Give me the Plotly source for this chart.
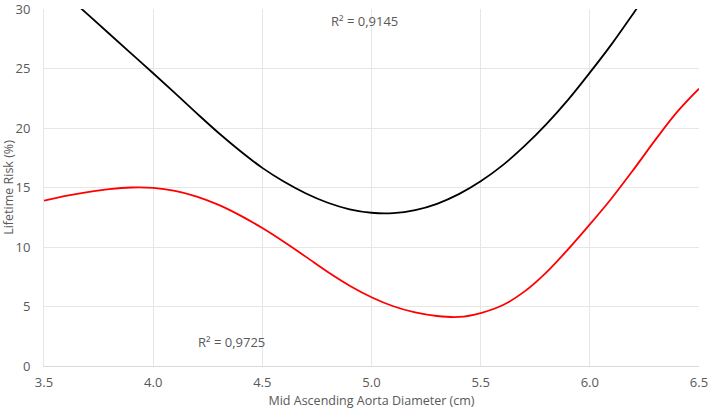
import plotly.graph_objects as go

# Black trendline, values every 0.1 cm
black_x = [3.6, 3.7, 3.8, 3.9, 4.0, 4.1, 4.2, 4.3, 4.4, 4.5, 4.6, 4.7, 4.8, 4.9, 5.0,
           5.1, 5.2, 5.3, 5.4, 5.5, 5.6, 5.7, 5.8, 5.9, 6.0, 6.1, 6.2, 6.3]
black_y = [31.2, 29.55, 27.9, 26.25, 24.6, 22.93, 21.23, 19.58, 18.05, 16.65, 15.48, 14.5, 13.72, 13.17, 12.88,
           12.85, 13.1, 13.63, 14.44, 15.52, 16.86, 18.47, 20.3, 22.36, 24.65, 27.05, 29.65, 32.3]

# Red trendline, values every 0.1 cm
red_x = [3.5, 3.6, 3.7, 3.8, 3.9, 4.0, 4.1, 4.2, 4.3, 4.4, 4.5, 4.6, 4.7, 4.8, 4.9, 5.0,
         5.1, 5.2, 5.3, 5.4, 5.5, 5.6, 5.7, 5.8, 5.9, 6.0, 6.1, 6.2, 6.3, 6.4, 6.5]
red_y = [13.89, 14.29, 14.62, 14.87, 15.0, 14.97, 14.72, 14.24, 13.54, 12.64, 11.59, 10.42, 9.17, 7.9, 6.75, 5.78,
         5.02, 4.5, 4.2, 4.12, 4.45, 5.1, 6.25, 7.85, 9.8, 11.9, 14.1, 16.5, 19.0, 21.35, 23.3]

x_ticks = [3.5, 4.0, 4.5, 5.0, 5.5, 6.0, 6.5]
y_ticks = [0, 5, 10, 15, 20, 25, 30]

r2_black = "R² = 0,9145"
r2_red = "R² = 0,9725"

font = "Open Sans"
grey = "#595959"

fig = go.Figure()
fig.add_trace(go.Scatter(x=black_x, y=black_y, mode="lines",
                         line=dict(color="black", width=1.8, shape="spline", smoothing=1.0),
                         showlegend=False, hoverinfo="skip"))
fig.add_trace(go.Scatter(x=red_x, y=red_y, mode="lines",
                         line=dict(color="#ff0000", width=1.8, shape="spline", smoothing=1.0),
                         showlegend=False, hoverinfo="skip"))

fig.add_annotation(x=4.966, y=29.0, text=r2_black, showarrow=False,
                   font=dict(family=font, size=13, color=grey))
fig.add_annotation(x=4.357, y=2.0, text=r2_red, showarrow=False,
                   font=dict(family=font, size=13, color=grey))

fig.update_layout(
    width=709, height=413,
    margin=dict(l=44, r=10, t=9, b=47),
    paper_bgcolor="white", plot_bgcolor="white",
    font=dict(family=font, size=13, color=grey),
    xaxis=dict(range=[3.5, 6.5], tickvals=x_ticks, ticktext=[f"{v:.1f}" for v in x_ticks],
               showgrid=True, gridcolor="#e6e6e6", gridwidth=1,
               zeroline=False, showline=True, linecolor="#d9d9d9", mirror=False,
               ticks="", tickfont=dict(size=13), automargin=False,
               ticklabeloverflow="allow", ticklabelstandoff=4,
               title=dict(text="Mid Ascending Aorta Diameter (cm)", standoff=6,
                          font=dict(size=12.5, color=grey))),
    yaxis=dict(range=[0, 30], tickvals=y_ticks,
               showgrid=True, gridcolor="#e6e6e6", gridwidth=1,
               zeroline=False, showline=True, linecolor="#e6e6e6",
               ticks="", ticklabelstandoff=10, tickfont=dict(size=13), automargin=False,
               ticklabeloverflow="allow",
               title=dict(text="Lifetime Risk (%)", standoff=2,
                          font=dict(size=12.5, color=grey))),
)

fig.write_html("out.html", config={"displayModeBar": False},
               post_script="document.body.style.margin='0px';")
